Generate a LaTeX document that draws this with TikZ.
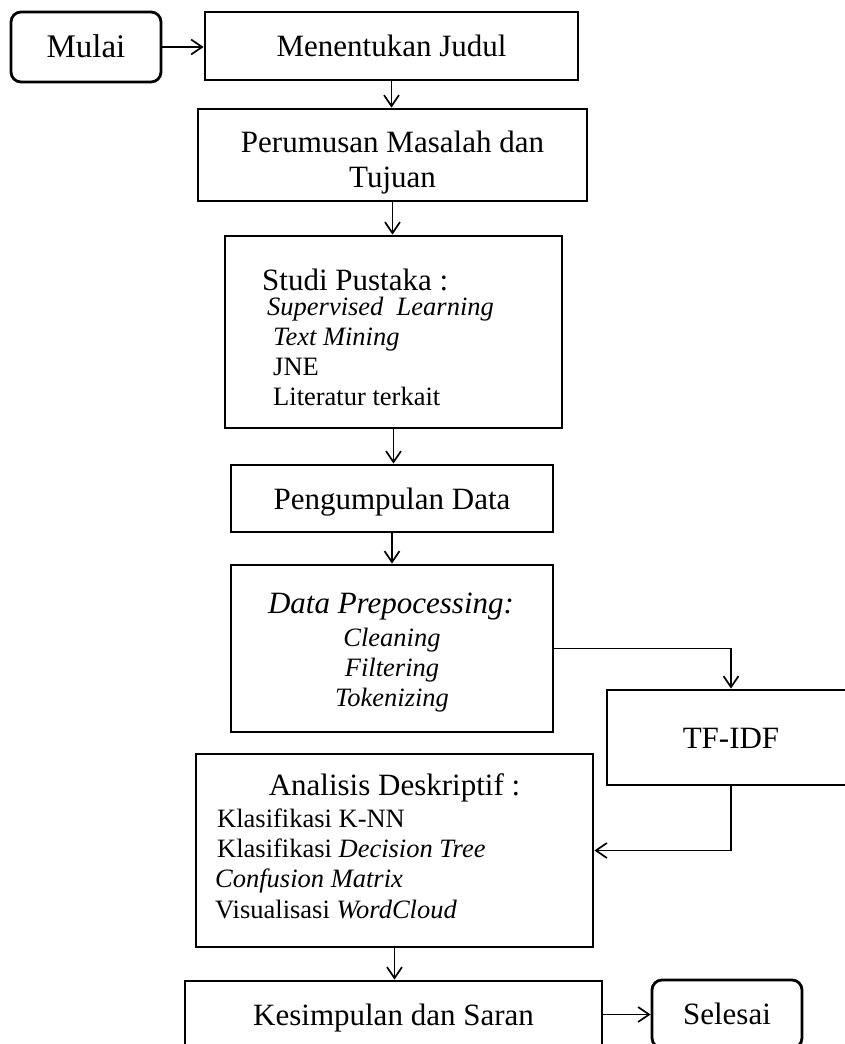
\documentclass[tikz,border=0pt]{standalone}
\usepackage{fontspec}
\setmainfont{Liberation Serif}
\usetikzlibrary{arrows.meta}
\newcommand\fbig{\fontsize{31}{35}\selectfont}
\newcommand\fsmall{\fontsize{26.5}{30}\selectfont}
\tikzset{
  box/.style={draw, line width=2.8pt, inner sep=0pt, font=\fbig, text height=21pt, text depth=0pt},
  rbox/.style={box, rounded corners=10pt},
  txt/.style={inner sep=0pt, font=\fbig},
  item/.style={inner sep=0pt, font=\fsmall, anchor=base west},
  conn/.style={line width=1.7pt, -{Straight Barb[length=11pt,width=15pt]}}
}
\begin{document}
\begin{tikzpicture}[x=1pt,y=-1pt]
\useasboundingbox (0,0) rectangle (845,1044);
\clip (0,0) rectangle (845,1044);
% boxes
\node[rbox, minimum width=150pt, minimum height=70pt, font=\fontsize{33}{37}\selectfont] (mulai) at (86,47) {Mulai};
\node[box, minimum width=373pt, minimum height=68pt] (judul) at (391.5,46) {Menentukan Judul};
\node[box, minimum width=389pt, minimum height=92pt] (rumus) at (392.5,155) {};
\node[txt, anchor=base] (rumus1) at (392.5,152) {Perumusan Masalah dan};
\node[txt, anchor=base] (rumus2) at (392.5,187) {Tujuan};
\node[box, minimum width=337pt, minimum height=192pt] (studi) at (393.5,332) {};
\node[txt, anchor=base west] (studiT) at (262,290) {Studi Pustaka :};
\node[item] (studi1) at (267,315) {\itshape Supervised\ \ Learning};
\node[item] (studi2) at (273,345) {\itshape Text Mining};
\node[item] (studi3) at (273,375) {JNE};
\node[item] (studi4) at (273,405) {Literatur terkait};
\node[box, minimum width=322pt, minimum height=67pt] (kumpul) at (392,498.5) {Pengumpulan Data};
\node[box, minimum width=322pt, minimum height=167pt] (prep) at (392,648.5) {};
\node[txt, anchor=base] (prepT) at (391,613) {\itshape Data Prepocessing:};
\node[txt, anchor=base, font=\fsmall\itshape] (prep1) at (392,646) {Cleaning};
\node[txt, anchor=base, font=\fsmall\itshape] (prep2) at (392,676) {Filtering};
\node[txt, anchor=base, font=\fsmall\itshape] (prep3) at (392,706) {Tokenizing};
\node[box, minimum width=248pt, minimum height=95pt] (tfidf) at (731,737.5) {TF-IDF};
\node[box, minimum width=397pt, minimum height=193pt] (anal) at (394.5,850.5) {};
\node[txt, anchor=base] (analT) at (394.5,795) {Analisis Deskriptif :};
\node[item] (anal1) at (217,827) {Klasifikasi K-NN};
\node[item] (anal2) at (217,857) {Klasifikasi \textit{Decision Tree}};
\node[item] (anal3) at (215,887) {\textit{Confusion Matrix}};
\node[item] (anal4) at (215,918) {Visualisasi \textit{WordCloud}};
\node[box, minimum width=417pt, minimum height=67pt] (kesim) at (393.5,1014.5) {Kesimpulan dan Saran};
\node[rbox, minimum width=150pt, minimum height=68pt] (selesai) at (727,1014) {Selesai};
% connectors
\draw[conn] (mulai.east) -- (mulai.east -| judul.west);
\draw[conn] (judul.south) -- (judul.south |- rumus.north);
\draw[conn] (rumus.south) -- (rumus.south |- studi.north);
\draw[conn] (studi.south) -- (studi.south |- kumpul.north);
\draw[conn] (kumpul.south) -- (prep.north);
\draw[conn] (prep.east) -| (tfidf.north);
\draw[conn] (tfidf.south) |- (anal.east);
\draw[conn] (anal.south) -- (anal.south |- kesim.north);
\draw[conn] (kesim.east) -- (kesim.east -| selesai.west);
\end{tikzpicture}
\end{document}
